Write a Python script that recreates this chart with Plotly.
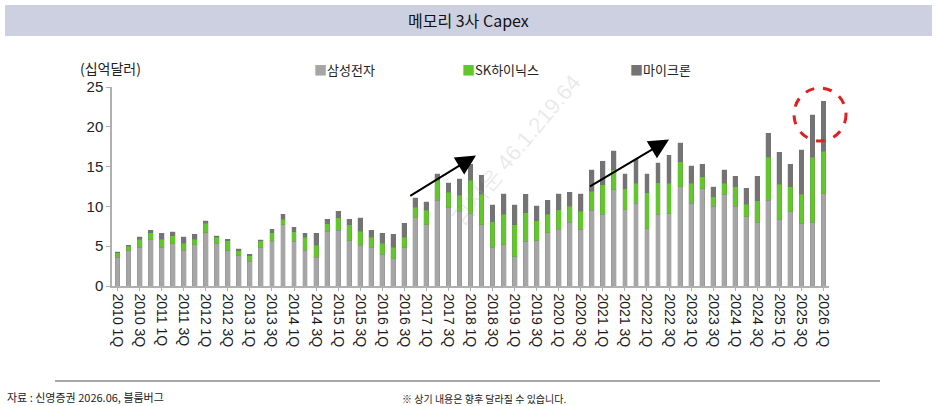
import plotly.graph_objects as go

# ---- data (USD bn, quarterly 2010 1Q .. 2026 1Q) ----
quarters = [f"{y} {q}Q" for y in range(2010, 2027) for q in range(1, 5)][:65]
tick_labels = quarters[::2]

samsung = [3.6, 4.4, 4.9, 5.8, 4.9, 5.3, 4.5, 5.2, 6.7, 5.4, 4.4, 3.8, 3.1, 4.9, 5.6,
           7.7, 5.6, 4.5, 3.6, 6.9, 7.0, 5.7, 5.1, 4.9, 4.0, 3.4, 4.8, 8.6, 7.7, 10.8, 9.8, 9.4, 9.1,
           7.7, 4.9, 5.2, 3.7, 5.6, 5.7, 6.7, 7.1, 8.0, 7.1, 9.5, 9.0, 12.1, 9.6, 10.4, 7.2, 9.0, 9.1,
           12.5, 10.4, 12.2, 10.0, 11.5, 10.0, 8.7, 8.0, 10.8, 8.3, 9.3, 7.8, 8.0, 11.6]
hynix = [0.6, 0.6, 1.0, 0.9, 1.0, 1.0, 0.9, 0.7, 1.2, 0.7, 1.3, 0.6, 0.7, 0.8, 1.1,
         0.7, 1.2, 1.6, 1.5, 0.9, 1.6, 2.0, 1.8, 1.2, 1.4, 1.5, 1.3, 1.3, 1.8, 2.5, 2.0, 2.0, 4.2,
         3.8, 3.2, 3.8, 4.0, 3.6, 2.5, 2.3, 2.5, 2.0, 2.3, 2.4, 3.7, 2.5, 2.6, 2.5, 4.5, 4.0, 3.8,
         3.1, 2.5, 1.5, 1.2, 1.4, 2.5, 1.6, 2.7, 5.4, 4.5, 3.2, 3.7, 8.2, 5.3]
micron = [0.1, 0.1, 0.3, 0.3, 0.7, 0.5, 0.8, 0.6, 0.3, 0.2, 0.2, 0.3, 0.2, 0.1, 0.4,
          0.6, 0.6, 0.5, 1.5, 0.6, 0.8, 0.7, 1.7, 0.9, 1.2, 1.6, 1.8, 1.2, 1.1, 0.8, 1.2, 2.1, 2.0,
          2.4, 2.1, 2.6, 2.5, 2.3, 1.9, 1.8, 2.0, 1.8, 2.2, 2.7, 3.0, 2.4, 1.9, 3.0, 2.4, 2.5, 3.5,
          2.4, 2.2, 1.6, 1.3, 1.7, 1.3, 2.0, 3.1, 3.0, 4.0, 2.8, 5.6, 5.3, 6.3]

series_names = ["삼성전자", "SK하이닉스", "마이크론"]
colors = ["#a6a6a6", "#62c72b", "#747474"]
y_ticks = [0, 5, 10, 15, 20, 25]

KR = "Noto Sans CJK KR"
EN = "Liberation Sans, Arial, sans-serif"

fig = go.Figure()
for name, vals, col in zip(series_names, [samsung, hynix, micron], colors):
    fig.add_trace(go.Bar(x=quarters, y=vals, name=name,
                         marker=dict(color=col, line=dict(color="rgba(110,110,110,0.45)", width=0.5)),
                         showlegend=False))

L, R, T, B = 112, 108, 87, 120
W, H = 937, 406
pw, ph = W - L - R, H - T - B


def px(xp):
    return (xp - L) / pw


def py(yp):
    return (H - B - yp) / ph


fig.update_layout(
    width=W, height=H, autosize=False,
    margin=dict(l=L, r=R, t=T, b=B),
    barmode="stack", bargap=0.56,
    paper_bgcolor="white", plot_bgcolor="white",
    font=dict(family=EN, color="#222"),
    xaxis=dict(type="category", tickmode="array", tickvals=tick_labels, ticktext=tick_labels,
               tickangle=90, tickfont=dict(size=14, family=EN, color="#1a1a1a"),
               showline=True, linecolor="#b0b0b0", linewidth=1.5,
               ticks="outside", ticklen=3, tickcolor="#b0b0b0",
               showgrid=False, range=[-0.5, 64.5]),
    yaxis=dict(range=[0, 25], tickvals=y_ticks, tickfont=dict(size=15, family=EN, color="#222"),
               showline=True, linecolor="#b0b0b0", linewidth=1.5,
               ticks="outside", ticklen=4, tickcolor="#b0b0b0",
               showgrid=False, zeroline=False),
)

shapes = [
    # title band
    dict(type="rect", xref="paper", yref="paper", x0=px(5), x1=px(932), y0=py(36), y1=py(5),
         fillcolor="#cdd0e1", line=dict(width=0), layer="below"),
    # bottom rule
    dict(type="line", xref="paper", yref="paper", x0=px(55), x1=px(880), y0=py(381), y1=py(381),
         line=dict(color="#a8a8a8", width=2)),
    # red dashed circle
    dict(type="circle", xref="paper", yref="paper", x0=px(794), x1=px(846), y0=py(141), y1=py(88),
         line=dict(color="#e02020", width=3, dash="dash")),
]
fig.update_layout(shapes=shapes)

ann = [
    dict(text="메모리 3사 Capex", x=px(468), y=py(20), xref="paper", yref="paper",
         showarrow=False, font=dict(family=KR, size=16, color="#111"), xanchor="center", yanchor="middle"),
    dict(text="(십억달러)", x=px(78), y=py(68), xref="paper", yref="paper", showarrow=False,
         font=dict(family=KR, size=14, color="#222"), xanchor="left", yanchor="middle"),
    dict(text="자료 : 신영증권 2026.06, 블룸버그", x=px(5), y=py(397), xref="paper", yref="paper",
         showarrow=False, font=dict(family=KR, size=11, color="#222"), xanchor="left", yanchor="middle"),
    dict(text="※ 상기 내용은 향후 달라질 수 있습니다.", x=px(400), y=py(398), xref="paper", yref="paper",
         showarrow=False, font=dict(family=KR, size=10, color="#222"), xanchor="left", yanchor="middle"),
    dict(text="김지운 46.1.219.64", x=px(515), y=py(150), xref="paper", yref="paper", showarrow=False,
         textangle=-50, font=dict(family=EN, size=22, color="rgba(170,170,170,0.25)"),
         xanchor="center", yanchor="middle"),
]
legend_x = [312, 460, 628]
for nm, col, lx in zip(series_names, colors, legend_x):
    ann.append(dict(text=f"<span style='color:{col}'>■</span>{nm}", x=px(lx), y=py(69),
                    xref="paper", yref="paper", showarrow=False,
                    font=dict(family=KR, size=13, color="#222"), xanchor="left", yanchor="middle"))

# trend arrows (head at x,y; tail at ax,ay) in data space
arrows = [((32.5, 16.4), (26.4, 11.2)), ((50.0, 18.4), (42.7, 12.4))]
for (hx, hy), (tx, ty) in arrows:
    ann.append(dict(x=hx, y=hy, ax=tx, ay=ty, xref="x", yref="y", axref="x", ayref="y",
                    showarrow=True, arrowhead=2, arrowsize=2, arrowwidth=2, arrowcolor="#000", text=""))
fig.update_layout(annotations=ann)

fig.write_html("out.html")
